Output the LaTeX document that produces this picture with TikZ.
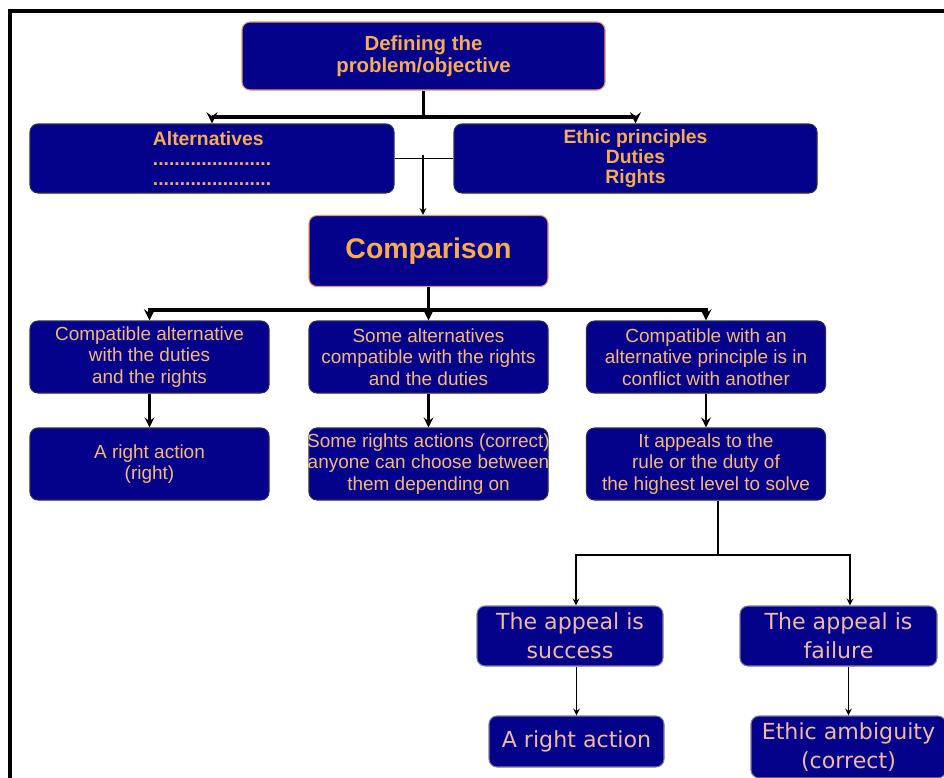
\documentclass[tikz,border=0pt]{standalone}
\usepackage{fontspec}
\setmainfont{Liberation Sans}
\newfontfamily\appealfont{DejaVu Sans}
\definecolor{boxblue}{RGB}{4,2,138}
\definecolor{boxtext}{RGB}{247,172,82}
\definecolor{plaintext}{RGB}{246,184,120}
\definecolor{appealtext}{RGB}{240,186,160}
\definecolor{boxedge}{RGB}{236,150,96}
\definecolor{darkedge}{RGB}{40,40,90}
\begin{document}
\begin{tikzpicture}[x=0.02cm, y=-0.02cm, >=stealth,
    box/.style={draw=darkedge, fill=boxblue, rounded corners=0.16cm, align=center, inner sep=0pt, line width=0.6pt},
    boxsize/.style 2 args={minimum width=#1*0.02cm, minimum height=#2*0.02cm},
    headbox/.style={box, text=boxtext, font=\bfseries\fontsize{11}{11.4}\selectfont},
    rowbox/.style={box, boxsize={239}{72}, text=plaintext, font=\fontsize{10.8}{12.2}\selectfont},
    appealbox/.style={box, draw=darkedge!60, text=appealtext, font=\appealfont\fontsize{12.6}{16.4}\selectfont},
    heavy/.style={line width=1.8pt},
    light/.style={line width=0.75pt}]
    \useasboundingbox (0,0) rectangle (944,778);
    \clip (0,0) rectangle (944,778);

    \node[headbox, draw=boxedge, boxsize={363}{68}, font=\bfseries\fontsize{11.6}{12.5}\selectfont] (defn) at (423.5,56) {Defining the\\problem/objective};
    \node[headbox, boxsize={364}{69}, align=left] (alts) at (212,158.5) {Alternatives\\......................\\......................};
    \node[headbox, boxsize={363}{69}] (ethic) at (635.5,158.5) {Ethic principles\\Duties\\Rights};
    \node[headbox, draw=boxedge, boxsize={239}{71}, font=\bfseries\fontsize{16.2}{18}\selectfont] (comp) at (428.5,251) {Comparison};

    \node[rowbox] (compat) at (149.5,357) {Compatible alternative\\with the duties\\and the rights};
    \node[rowbox] (some) at (428.5,357) {Some alternatives\\compatible with the rights\\and the duties};
    \node[rowbox] (confl) at (706,357) {Compatible with an\\alternative principle is in\\conflict with another};
    \node[rowbox] (rightact) at (149.5,464) {A right action\\(right)};
    \node[rowbox] (choose) at (428.5,464) {\makebox[0pt]{Some rights actions (correct)}\\\makebox[0pt]{anyone can choose between}\\\makebox[0pt]{them depending on}};
    \node[rowbox] (highest) at (706,464) {It appeals to the\\rule or the duty of\\the highest level to solve};

    \node[appealbox, boxsize={186}{60}] (success) at (570,636) {The appeal is\\success};
    \node[appealbox, boxsize={197}{60}] (failure) at (838.5,636) {The appeal is\\failure};
    \node[appealbox, boxsize={175}{51}] (action) at (576.5,741.5) {A right action};
    \node[appealbox, boxsize={195}{62}] (ambig) at (848.5,747) {Ethic ambiguity\\(correct)};

    \coordinate (top) at (423.5,117);
    \coordinate (mid) at (423,155);
    \coordinate (fork) at (428.5,310);
    \coordinate (split) at (718,555);

    \draw[heavy] (defn) -- (top);
    \draw[heavy,->] (top) -| (alts);
    \draw[heavy,->] (top) -| (ethic);
    \draw[light] (alts) -- (ethic);
    \draw[light,->] (mid) -- (mid |- comp.north);
    \draw[heavy] (comp) -- (fork);
    \draw[heavy,->] (fork) -| (compat);
    \draw[heavy,->] (fork) -- (some);
    \draw[heavy,->] (fork) -| (confl);
    \draw[line width=1.5pt,->] (compat) -- (rightact);
    \draw[line width=1.5pt,->] (some) -- (choose);
    \draw[line width=1.5pt,->] (confl) -- (highest);
    \draw[light] (highest.south -| split) -- (split);
    \draw[light,->] (split) -| ([xshift=0.12cm]success.north);
    \draw[light,->] (split) -| ([xshift=0.23cm]failure.north);
    \draw[light,->] (success.south -| action.north) -- (action.north);
    \draw[light,->] (failure.south -| ambig.north) -- (ambig.north);

    \draw[line width=2.3pt] (10,790) -- (10,11) -- (950,11);
\end{tikzpicture}
\end{document}
